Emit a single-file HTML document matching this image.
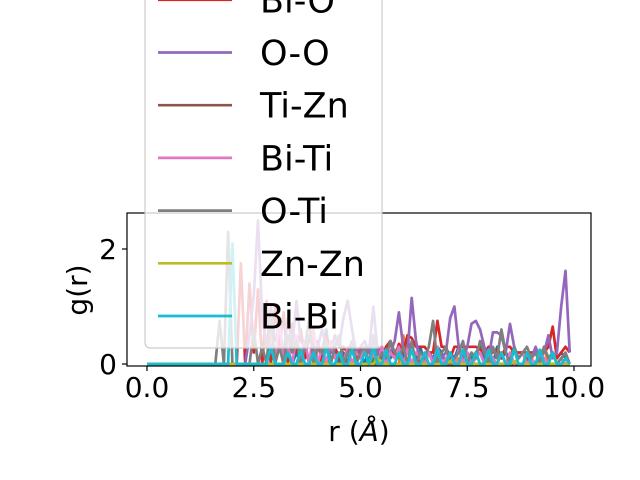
<!DOCTYPE html>
<html><head><meta charset="utf-8"><style>
body{margin:0;background:#fff}
svg{display:block;font-family:"DejaVu Sans","Liberation Sans",sans-serif}
</style></head><body>
<svg id="chart" width="640" height="480" viewBox="0 0 640 480">
<rect width="640" height="480" fill="#fff"/>
<g id="series"></g>
<rect x="127" y="213" width="464" height="153" fill="none" stroke="#000" stroke-width="1.2"/>
<g id="xticks"></g>
<g id="yticks"></g>
<text x="359" y="441" font-size="28" text-anchor="middle">r (<tspan font-style="italic">Å</tspan>)</text>
<text transform="translate(87,290) rotate(-90)" font-size="28" text-anchor="middle">g(r)</text>
<g id="legend"></g>
</svg>
<script>
const names = ["Zn-O","Ti-Ti","Bi-Zn","Bi-O","O-O","Ti-Zn","Bi-Ti","O-Ti","Zn-Zn","Bi-Bi"];
const colors = ["#1f77b4","#ff7f0e","#2ca02c","#d62728","#9467bd","#8c564b","#e377c2","#7f7f7f","#bcbd22","#17becf"];
const xTicks = [0,2.5,5,7.5,10];
const xTickLabels = ["0.0","2.5","5.0","7.5","10.0"];
const yTicks = [0,2];
const yTickLabels = ["0","2"];
// g(r) sampled at r = 0.0, 0.1, ..., 9.9
const sZnO = [0,0,0,0,0,0,0,0,0,0,0,0,0,0,0,0,0,0,0,0,0,0,0,0,0,0,0,0,0,0,0,0,0,0,0,0.2,0,0.3,0,0.5,0,0.2,0.6,0,0.3,0,0.2,0,0.4,0,0.2,0,0.3,0,0.2,0.1,0.3,0.1,0.2,0.3,0.1,0.4,0.2,0.1,0.3,0,0.2,0.1,0.3,0.2,0,0.2,0.1,0.3,0,0.2,0.1,0.2,0.3,0.1,0.2,0,0.3,0.1,0.2,0.1,0.3,0.1,0.2,0,0.1,0.2,0.1,0.3,0.1,0.2,0.1,0.2,0.1,0];
const sTiTi = [0,0,0,0,0,0,0,0,0,0,0,0,0,0,0,0,0,0,0,0,0,0,0,0,0,0,0,0,0,0,0,0,0,0,0,0,0,0,0,0,0,0,0,0,0,0,0,0,0,0,0,0,0,0,0,0,0.3,0,0,0,0.5,0.2,0.3,0,0,0,0,0,0,0,0,0,0,0.1,0,0,0,0,0,0,0,0,0,0.2,0,0,0,0,0,0,0,0,0,0.3,0,0,0,0,0,0];
const sBiZn = [0,0,0,0,0,0,0,0,0,0,0,0,0,0,0,0,0,0,0,0,0,0,0,0,0,0,0,0,0,0,0,0,0,0,0,0,0,0,0,0,0,0,0.1,0,0,0,0,0,0,0,0,0,0,0.1,0,0,0,0,0,0,0,0,0,0,0,0,0,0,0,0,0,0,0,0,0,0,0,0,0,0,0.1,0,0,0,0,0,0,0,0,0,0,0,0,0,0,0,0,0,0,0];
const sBiO = [0,0,0,0,0,0,0,0,0,0,0,0,0,0,0,0,0,0,0,0,0,0,1.75,0,1.4,0.2,1.3,0,1.1,0,1.0,0.3,0.9,0,0.7,0.2,0.6,0.1,0.5,0.3,0.4,0,0.5,0.2,0.3,0.1,0.3,0.2,0.35,0.1,0.3,0.2,0.3,0.2,0.3,0.1,0.3,0.4,0.1,0.35,0.2,0.5,0.45,0.3,0.3,0.3,0.2,0.2,0.75,0.3,0.3,0.1,0.3,0.3,0.3,0.3,0.3,0.3,0.25,0.2,0.3,0.2,0.25,0.1,0.3,0.3,0.2,0.2,0.2,0.2,0.2,0.2,0.2,0.2,0.3,0.65,0.1,0.2,0.3,0.2];
const sOO = [0,0,0,0,0,0,0,0,0,0,0,0,0,0,0,0,0,0,0,0,0,0,0,0,0.5,1.2,2.5,0.8,0.3,1.0,0.4,0.6,0.2,0.8,0.3,1.1,0.4,0.3,0.5,0.2,0.3,0.6,0.3,0.2,0.5,0.3,0.8,1.1,0.6,0.2,0.3,0.4,0.2,1.0,0.2,0.3,0.1,0.2,0.4,0.9,0.3,0.2,1.15,0.4,0,0.1,0.2,0.1,0,0.1,0.2,0.8,1.0,0.3,0.1,0.3,0.7,0.75,0.6,0.3,0.1,0.55,0.55,0.5,0.2,0.7,0.3,0.1,0.2,0,0.1,0.3,0.1,0.2,0.5,0.1,0.2,1.0,1.62,0.2];
const sTiZn = [0,0,0,0,0,0,0,0,0,0,0,0,0,0,0,0,0,0,0,0,0,0,0,0,0,0,0,0,0,0,0,0,0,0,0,0,0,0,0,0,0,0,0,0,0,0,0.1,0,0,0,0,0,0,0,0,0,0,0,0,0,0,0,0,0,0.1,0,0,0,0,0,0,0,0,0,0,0,0,0,0,0,0,0,0,0,0,0,0,0,0,0.1,0,0,0,0,0,0,0,0,0,0];
const sBiTi = [0,0,0,0,0,0,0,0,0,0,0,0,0,0,0,0,0,0,0,0,0,0,0,0,0,0,0,0,0,0.6,0,0.8,0,0.3,0,0.5,0.1,0.4,0,0.6,0,0.3,0,0.4,0.1,0.2,0,0.3,0,0.2,0.1,0.3,0,0.2,0,0.3,0,0.2,0.1,0.3,0,0.25,0,0.2,0.1,0,0.2,0,0.3,0,0.1,0.2,0,0.25,0,0.2,0,0.1,0.2,0,0.2,0.1,0,0.2,0,0.2,0,0.1,0.2,0,0.1,0,0.2,0.1,0,0.2,0,0.1,0,0];
const sOTi = [0,0,0,0,0,0,0,0,0,0,0,0,0,0,0,0,0,0.75,0,2.3,0,0,0,0,0,0.6,0,0.3,0,0.9,0,0.3,0,0.5,0.2,0.4,0,0.3,0.8,0,0.3,0.2,0.4,0,0.3,0.5,0,0.2,0.4,0,0.2,0.3,0,0.5,0,0.2,0.1,0.4,0.2,0.1,0.3,0,0.4,0,0.2,0.1,0.3,0.75,0,0.2,0.3,0,0.1,0.2,0.4,0,0.2,0.1,0.4,0.2,0,0.3,0.1,0.6,0.2,0,0.3,0.1,0.2,0.3,0.1,0.2,0,0.3,0.1,0.2,0,0.1,0.2,0];
const sZnZn = [0,0,0,0,0,0,0,0,0,0,0,0,0,0,0,0,0,0,0,0,0,0,0,0,0,0,0,0,0,0,0,0,0,0,0,0,0,0,0,0,0,0,0,0,0,0,0,0,0,0,0,0,0,0,0.1,0,0,0,0,0,0,0,0,0,0,0,0,0,0,0,0,0.05,0,0,0,0,0,0,0,0,0,0,0,0,0,0,0.05,0,0,0,0,0,0,0,0,0,0,0,0,0];
const sBiBi = [0,0,0,0,0,0,0,0,0,0,0,0,0,0,0,0,0,0,0,0,2.1,0,0,0,0,0,0,0,0,0.3,0,0,0,0.2,0,0,0.25,0,0,0.2,0,0,0.3,0,0,0.2,0,0,0.25,0,0,0.2,0,0.3,0,0,0.25,0,0,0.2,0,0,0.25,0,0,0.2,0,0,0.25,0,0,0.2,0,0,0.25,0,0,0.2,0,0,0.25,0,0,0.2,0,0,0.25,0,0,0.2,0,0,0.25,0,0,0.2,0,0,0.1,0];
const allSeries = [sZnO,sTiTi,sBiZn,sBiO,sOO,sTiZn,sBiTi,sOTi,sZnZn,sBiBi];
const rStep = 0.1;

const NS = "http://www.w3.org/2000/svg";
const xScale = v => 147 + v * 42.7;
const yScale = v => 364 - v * 57.5;
const LW = 2.7;
function mk(tag, attrs, parent){const e=document.createElementNS(NS,tag);for(const k in attrs)e.setAttribute(k,attrs[k]);parent.appendChild(e);return e;}

const sg = document.getElementById("series");
allSeries.forEach((s,si)=>{
  const pts = s.map((v,i)=>xScale(i*rStep).toFixed(1)+","+yScale(v).toFixed(1)).join(" ");
  const pl = mk("polyline",{points:pts,fill:"none",stroke:colors[si],"stroke-width":LW,"stroke-linejoin":"round"},sg);
  
  
});

const xg = document.getElementById("xticks");
xTicks.forEach((t,i)=>{
  const x = xScale(t);
  const l = mk("line",{x1:x,x2:x,y1:366,y2:371,stroke:"#000","stroke-width":1.2},xg);
  
  
  const tx = mk("text",{x:x,y:397,"font-size":28,"text-anchor":"middle"},xg);
  tx.textContent = xTickLabels[i];
  
  
});
const yg = document.getElementById("yticks");
yTicks.forEach((t,i)=>{
  const y = yScale(t);
  const l = mk("line",{x1:122,x2:127,y1:y,y2:y,stroke:"#000","stroke-width":1.2},yg);
  
  
  const tx = mk("text",{x:117,y:y+10,"font-size":28,"text-anchor":"end"},yg);
  tx.textContent = yTickLabels[i];
  
  
});

const lg = document.getElementById("legend");
const box = mk("rect",{x:145,y:-230,width:237,height:578,rx:5,fill:"#fff","fill-opacity":0.8,stroke:"#ccc","stroke-width":1.2},lg);


names.forEach((n,i)=>{
  const y = 316 - (9-i)*52.7;
  const g = mk("g",{},lg);
  
  
  mk("line",{x1:158,x2:232,y1:y,y2:y,stroke:colors[i],"stroke-width":LW},g);
  const t = mk("text",{x:260,y:y+12.5,"font-size":35},g);
  t.textContent = n;
});
</script>
</body></html>
